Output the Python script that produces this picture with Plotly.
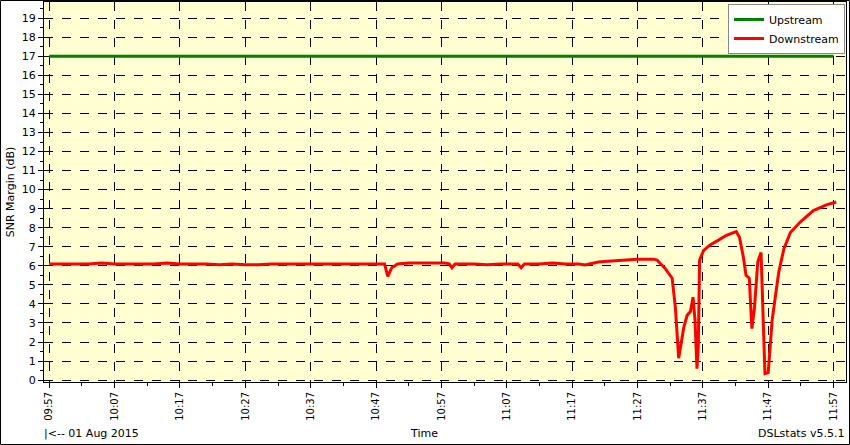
import plotly.graph_objects as go

tick_labels = ["09:57","10:07","10:17","10:27","10:37","10:47","10:57","11:07","11:17","11:27","11:37","11:47","11:57"]
tick_pos = [0,10,20,30,40,50,60,70,80,90,100,110,120]

up_t = [0, 120]
up_v = [17, 17]

dn_t = [0,2,4,6,8,10,12,14,16,18,20,22,24,26,28,30,32,34,36,38,40,42,44,46,48,
        51.3,51.8,52.4,53.3,55,57,59,60.5,61.2,61.6,62.1,63,65,67,69,71,71.7,72.2,72.7,75,77,79,81,
        82,84,86,88,90,92.4,93,94.2,95.3,95.8,96.3,97.1,97.6,98.1,98.5,98.8,99.1,99.3,99.5,
        100.1,101.1,102.4,103.6,105.1,105.6,106.2,106.6,107.1,107.5,107.9,108.4,108.9,109.2,
        109.5,110.0,110.6,111.6,112.4,113.4,114.9,116.9,118.9,120.4]
dn_v = [6.1,6.1,6.1,6.1,6.15,6.1,6.1,6.1,6.1,6.15,6.1,6.1,6.1,6.05,6.1,6.05,6.05,6.1,6.1,6.1,6.1,6.1,6.1,6.1,6.1,
        6.1,5.45,5.9,6.1,6.15,6.15,6.15,6.15,6.1,5.9,6.1,6.1,6.1,6.05,6.1,6.1,6.1,5.9,6.1,6.1,6.15,6.1,6.1,
        6.05,6.2,6.25,6.3,6.35,6.35,6.3,5.88,5.35,3.8,1.15,2.8,3.4,3.6,4.35,3.15,0.6,1.75,6.3,
        6.8,7.1,7.35,7.6,7.8,7.5,6.45,5.5,5.35,2.7,3.8,6.2,6.7,3.5,
        0.35,0.4,3.15,5.65,6.9,7.75,8.3,8.9,9.2,9.35]

L, R, T, B = 44, 4, 2, 63
W, H = 850, 445
pw, ph = W - L - R, H - T - B

def px(x):
    return (x - L) / pw

def py(y):
    return (H - B - y) / ph

fig = go.Figure()
fig.add_trace(go.Scatter(x=up_t, y=up_v, mode="lines", name="Upstream",
                         line=dict(color="#008000", width=3)))
fig.add_trace(go.Scatter(x=dn_t, y=dn_v, mode="lines", name="Downstream",
                         line=dict(color="#ff0000", width=3)))

font = dict(family="DejaVu Sans", size=11, color="black")
fig.update_layout(
    width=W, height=H, margin=dict(l=L, r=R, t=T, b=B, autoexpand=False),
    paper_bgcolor="white", plot_bgcolor="#ffffd2", font=font,
    showlegend=True,
    legend=dict(x=px(845), y=py(4), xanchor="right", yanchor="top", bgcolor="white",
                bordercolor="#888888", borderwidth=1, font=dict(size=11, family="DejaVu Sans"),
                itemwidth=30, tracegroupgap=0),
    xaxis=dict(range=[-0.8, 121.9], tickmode="array", tickvals=tick_pos, ticktext=tick_labels,
               tickangle=-90, showgrid=True, gridcolor="black", griddash="dash", gridwidth=1,
               ticks="outside", ticklen=5, tickcolor="black", showline=True, linecolor="black",
               mirror=True, zeroline=False, automargin=False, tickfont=dict(size=10),
               minor=dict(dtick=5, ticks="outside", ticklen=3, tickcolor="black", showgrid=False)),
    yaxis=dict(range=[-0.1, 19.85], tickmode="linear", tick0=0, dtick=1,
               showgrid=True, gridcolor="black", griddash="dash", gridwidth=1,
               ticks="outside", ticklen=5, tickcolor="black", showline=True, linecolor="black",
               mirror=True, zeroline=False, automargin=False,
               title=dict(text="SNR Margin (dB)", standoff=4, font=dict(size=11)),
               minor=dict(dtick=0.5, ticks="outside", ticklen=3, tickcolor="black", showgrid=False)),
    annotations=[
        dict(text="|<-- 01 Aug 2015", x=px(42), y=py(433), xanchor="left", yanchor="middle", xref="paper", yref="paper", showarrow=False),
        dict(text="Time", x=px(424), y=py(433), yanchor="middle", xref="paper", yref="paper", showarrow=False),
        dict(text="DSLstats v5.5.1", x=px(846), y=py(433), xanchor="right", yanchor="middle", xref="paper", yref="paper", showarrow=False),
    ],
)
fig.add_shape(type="rect", xref="paper", yref="paper",
              x0=px(0.5), x1=px(849.5), y0=py(444.5), y1=py(0.5),
              line=dict(color="black", width=1), layer="above")
fig.write_html("out.html", config={"displayModeBar": False},
               post_script="document.body.style.margin='0';document.body.style.overflow='hidden';")
